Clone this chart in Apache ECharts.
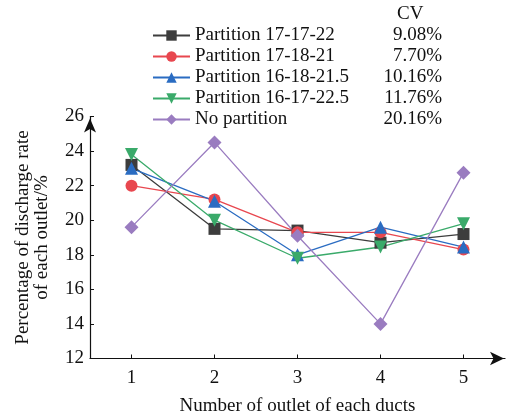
<!DOCTYPE html>
<html><head><meta charset="utf-8">
<script src="https://cdn.jsdelivr.net/npm/echarts@6/dist/echarts.min.js"></script>
<style>html,body{margin:0;padding:0;background:#fff}#c{width:506px;height:417px}</style>
</head><body><div id="c"></div>
<script>
const outlets = [1, 2, 3, 4, 5];
const names = ['Partition 17-17-22', 'Partition 17-18-21', 'Partition 16-18-21.5', 'Partition 16-17-22.5', 'No partition'];
const cvValues = ['9.08%', '7.70%', '10.16%', '11.76%', '20.16%'];
const s1 = [23.2, 19.5, 19.4, 18.7, 19.2];
const s2 = [22.0, 21.2, 19.3, 19.3, 18.3];
const s3 = [23.0, 21.1, 18.0, 19.6, 18.45];
const s4 = [23.8, 20.0, 17.8, 18.45, 19.8];
const s5 = [19.6, 24.5, 19.1, 14.0, 22.75];
const yTicks = [12, 14, 16, 18, 20, 22, 24, 26];

const colors = ['#3d3d3d', '#e8474f', '#2a6cc2', '#3aaa6a', '#9a7cc0'];
const symbols = ['rect', 'circle', 'triangle', 'path://M0,0 L10,0 L5,10 Z', 'diamond'];
const sizes = [12, 12, 13, 13, 14];
const allData = [s1, s2, s3, s4, s5];
const font = '"Liberation Serif", "Times New Roman", serif';
const fs = 19;

const series = allData.map((d, i) => ({
  name: names[i],
  type: 'line',
  data: d.map((v, j) => [outlets[j], v]),
  symbol: symbols[i],
  symbolSize: sizes[i],
  symbolKeepAspect: true,
  itemStyle: { color: colors[i] },
  lineStyle: { color: colors[i], width: 1.3 },
  emphasis: { disabled: true },
  animation: false
}));

const cvMap = {};
names.forEach((n, i) => cvMap[n] = cvValues[i]);

const chart = echarts.init(document.getElementById('c'), null, { renderer: 'canvas' });
chart.setOption({
  backgroundColor: '#fff',
  animation: false,
  grid: { left: 90, right: 1, top: 116.5, bottom: 58.5, containLabel: false, outerBoundsMode: 'none' },
  legend: {
    orient: 'vertical',
    left: 147,
    top: 21,
    itemWidth: 37,
    itemHeight: 13,
    itemGap: 2,
    textStyle: {
      fontFamily: font, fontSize: fs, color: '#111',
      rich: {
        n: { fontFamily: font, fontSize: fs, width: 151, color: '#111', lineHeight: 19 },
        v: { fontFamily: font, fontSize: fs, width: 96, align: 'right', color: '#111', lineHeight: 19 }
      }
    },
    formatter: n => '{n|' + n + '}{v|' + cvMap[n] + '}',
    data: names
  },
  graphic: [{
    type: 'text', left: 397, top: 5,
    style: { text: 'CV', font: fs + 'px ' + font, fill: '#111' }
  }],
  xAxis: {
    type: 'value', min: 0.5, max: 5.5,
    name: 'Number of outlet of each ducts',
    nameLocation: 'middle', nameGap: 38,
    nameTextStyle: { fontFamily: font, fontSize: fs, color: '#111' },
    axisLine: { show: true, onZero: false, lineStyle: { color: '#111', width: 1.2 }, symbol: ['none', 'arrow'], symbolSize: [10, 14], symbolOffset: [0, -1] },
    axisTick: { show: true, inside: true, length: 4, lineStyle: { color: '#111' }, customValues: outlets },
    axisLabel: { fontFamily: font, fontSize: fs, color: '#111', margin: 10, customValues: outlets },
    splitLine: { show: false }
  },
  yAxis: {
    type: 'value', min: 12, max: 26, interval: 2,
    name: 'Percentage of discharge rate\nof each outlet/%',
    nameLocation: 'middle', nameGap: 38,
    nameTextStyle: { fontFamily: font, fontSize: fs, color: '#111', lineHeight: 19 },
    axisLine: { show: true, onZero: false, lineStyle: { color: '#111', width: 1.2 }, symbol: ['none', 'arrow'], symbolSize: [9, 14], symbolOffset: [0, -2] },
    axisTick: { show: true, inside: true, length: 4, lineStyle: { color: '#111' } },
    axisLabel: { fontFamily: font, fontSize: fs, color: '#111', margin: 6, customValues: yTicks },
    splitLine: { show: false }
  },
  series
});
</script></body></html>
